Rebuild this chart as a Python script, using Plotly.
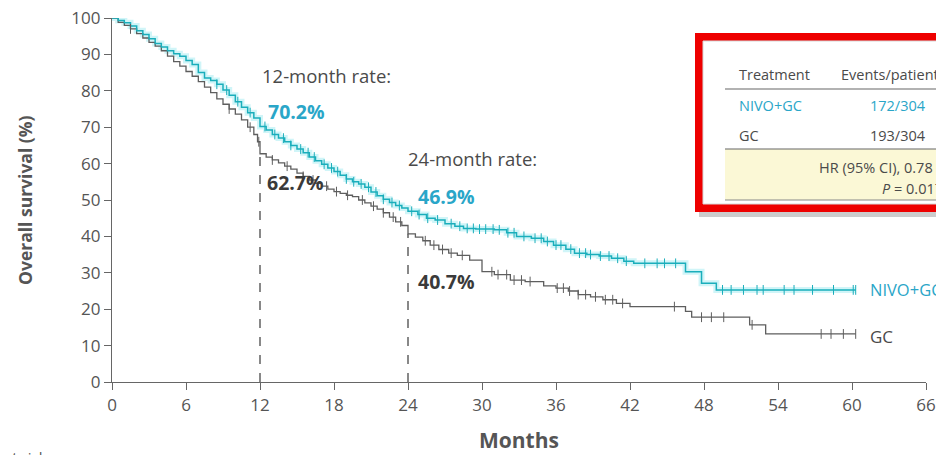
import numpy as np
import plotly.graph_objects as go

# ---------------- data ----------------
nivo_t = [0, 0.5, 1, 1.5, 2, 2.5, 3, 3.5, 4, 4.5, 5, 5.5, 6, 6.5, 7, 7.5, 8, 8.5, 9, 9.5,
          10, 10.5, 11, 11.5, 12, 12.5, 13, 13.5, 14, 14.5, 15, 15.5, 16, 16.5, 17, 17.5,
          18, 18.5, 19, 19.5, 20, 20.5, 21, 21.5, 22, 22.5, 23, 23.5, 24, 24.8, 25.5, 26.2,
          27, 27.8, 28.5, 29.5, 31, 32, 32.8, 34, 35, 35.8, 36.8, 37.5, 38.5, 39.5, 40.5,
          41.5, 42.3, 46.5, 47.8, 49, 60.3]
nivo_s = [100, 99.3, 98.7, 97.8, 96.5, 95.5, 94.3, 93, 92, 91, 90.2, 89.5, 88.3, 87.2, 85,
          83.5, 82.8, 81.8, 80.2, 78.8, 77, 75.5, 74, 72.5, 70.2, 69.2, 68, 67, 66, 65, 64,
          63, 61.8, 60.8, 59.8, 58.8, 57.8, 56.8, 55.8, 55, 54.4, 53.5, 52.2, 51.2, 50.2,
          49.3, 48.5, 47.8, 46.9, 46, 45, 44.5, 43.5, 42.8, 42.2, 42, 41.8, 41, 40, 39.5,
          38.6, 37.6, 36.5, 35.4, 35, 34.6, 34, 33.2, 32.6, 30.3, 27.1, 25.3, 25.3]

gc_t = [0, 0.5, 1, 1.5, 2, 2.5, 3, 3.5, 4, 4.5, 5, 5.5, 6, 6.5, 7, 7.5, 8, 8.5, 9, 9.5,
        10, 10.5, 11, 11.5, 11.8, 12, 12.5, 13, 13.5, 14, 14.5, 15, 15.5, 16, 16.5, 17,
        17.5, 18, 18.5, 19, 19.5, 20, 20.5, 21, 21.5, 22, 22.5, 23, 23.5, 24, 24.6, 25.2,
        25.8, 26.5, 27.3, 28, 29, 30, 31, 32.3, 33.5, 35, 36, 37, 37.8, 38.8, 39.8, 40.9,
        42, 46.5, 47, 51.7, 53, 60.3]
gc_s = [100, 98.8, 98, 97, 95.7, 94.5, 93.3, 92.3, 91, 89.5, 88, 86.8, 85.3, 84, 82.5, 81,
        79.5, 77.8, 76.3, 75, 73.6, 72, 70, 68, 66, 62.7, 61.8, 61, 60.2, 59.3, 58.5, 57.4,
        56.5, 55.5, 54.6, 53.8, 53, 52.3, 51.8, 51.3, 50.9, 50, 49.2, 48.3, 47.5, 46.5,
        45.3, 44, 43, 40.7, 39.8, 38.8, 37.6, 36.4, 35.4, 34.8, 33.5, 30.3, 29.5, 28, 27.6,
        26.4, 25.8, 25, 24, 23.4, 22.6, 21.6, 20.7, 19.4, 17.8, 15.7, 13.2, 13.2]

nivo_censor = [8.5, 9.3, 10.2, 11.2, 12.4, 13.2, 13.9, 14.5, 15.3, 15.9, 16.4, 17.2, 17.8,
               18.3, 19, 19.6, 20.2, 20.8, 21.4, 22, 22.7, 23.3, 24.3, 24.9, 25.6, 26.4,
               27.5, 28.2, 28.8, 29.3, 29.8, 30.3, 30.9, 31.4, 32.1, 32.6, 33.4, 34.3, 34.8,
               35.3, 36, 36.4, 37.2, 37.9, 38.4, 38.8, 39.6, 40.3, 41, 41.7, 43.2, 44.2,
               44.8, 45.7, 49.5, 50.2, 51.2, 52.3, 52.8, 54.5, 55.3, 56.8, 58.5, 60.1, 60.3]
gc_censor = [1.5, 9.5, 11.2, 11.9, 13, 14.2, 15.5, 16.3, 17.4, 18.2, 19.1, 20.3, 21.2, 22,
             22.8, 23.4, 25.4, 26.1, 26.8, 27.5, 28.4, 30.8, 31.3, 32, 32.6, 33.2, 33.9,
             36.1, 36.6, 37.1, 37.8, 38.4, 39.2, 40, 40.6, 41.4, 45.6, 47.8, 48.6, 49.6,
             51.9, 57.5, 58.3, 59.3, 60.3]

milestones = [12, 24]
milestone_labels = ["12-month rate:", "24-month rate:"]
nivo_rates = [70.2, 46.9]
gc_rates = [62.7, 40.7]

arm_names = ["NIVO+GC", "GC"]
events = ["172/304", "193/304"]
hr_text = "HR (95% CI), 0.78 (0.63–0.96)"
p_text = "<i>P</i> = 0.0171"

x_ticks = list(range(0, 67, 6))
y_ticks = list(range(0, 101, 10))

# ---------------- style ----------------
TEAL = "#1aaebb"
TEAL_TXT = "#2aa6c8"
GREY = "#5e5e5e"
TXT = "#4a4a4a"
FONT = "Open Sans"

# the page body adds an 8px offset; layout is specified in target pixels
OFF = 8
W, H = 944, 455
TL, TR, TT, TB = 112, 926, 18, 382          # target plot-area edges
ML, MT = TL - OFF, TT - OFF
MR = W - (TR - OFF)
MB = H - (TB - OFF)
PW, PH = TR - TL, TB - TT


def px(x):
    return (x - TL) / PW


def py(y):
    return (TB - y) / PH


def step_value(ts, ss, t):
    i = np.searchsorted(np.array(ts), t, side="right") - 1
    return float(np.array(ss)[max(i, 0)])


fig = go.Figure()

fig.add_trace(go.Scatter(x=nivo_t, y=nivo_s, mode="lines", line_shape="hv",
                         line=dict(color="rgba(120,225,235,0.35)", width=6),
                         hoverinfo="skip", showlegend=False, cliponaxis=False))
fig.add_trace(go.Scatter(x=gc_t, y=gc_s, mode="lines", line_shape="hv",
                         line=dict(color=GREY, width=1.3), name="GC",
                         showlegend=False, cliponaxis=False))
fig.add_trace(go.Scatter(x=nivo_t, y=nivo_s, mode="lines", line_shape="hv",
                         line=dict(color=TEAL, width=1.5), name="NIVO+GC",
                         showlegend=False, cliponaxis=False))

fig.add_trace(go.Scatter(x=gc_censor, y=[step_value(gc_t, gc_s, t) for t in gc_censor],
                         mode="markers", marker=dict(symbol="line-ns", size=7,
                                                     line=dict(color=GREY, width=1)),
                         showlegend=False, hoverinfo="skip", cliponaxis=False))
fig.add_trace(go.Scatter(x=nivo_censor, y=[step_value(nivo_t, nivo_s, t) for t in nivo_censor],
                         mode="markers", marker=dict(symbol="line-ns", size=7,
                                                     line=dict(color=TEAL, width=1)),
                         showlegend=False, hoverinfo="skip", cliponaxis=False))

shapes = []
for m, g in zip(milestones, gc_rates):
    shapes.append(dict(type="line", x0=m, x1=m, y0=0, y1=g, xref="x", yref="y",
                       line=dict(color="#3a3a3a", width=1.2, dash="dash"), layer="below"))

annotations = []
lab_pos = [(12.0, 84.3), (23.8, 61.5)]
nivo_pos = [(12.5, 74.2), (24.65, 51.1)]
gc_pos = [(12.4, 54.7), (24.65, 27.7)]
for lbl, r1, r2, p0, p1, p2 in zip(milestone_labels, nivo_rates, gc_rates, lab_pos, nivo_pos, gc_pos):
    annotations.append(dict(x=p0[0], y=p0[1], text=lbl, showarrow=False, xanchor="left",
                            yanchor="middle", font=dict(family=FONT, size=18.5, color=TXT)))
    annotations.append(dict(x=p1[0], y=p1[1], text=f"<b>{r1}%</b>", showarrow=False,
                            xanchor="left", yanchor="middle",
                            font=dict(family=FONT, size=19.5, color=TEAL_TXT)))
    annotations.append(dict(x=p2[0], y=p2[1], text=f"<b>{r2}%</b>", showarrow=False,
                            xanchor="left", yanchor="middle",
                            font=dict(family=FONT, size=19.5, color="#3a3a3a")))

annotations.append(dict(x=61.3, y=25.3, text=arm_names[0], showarrow=False, xanchor="left",
                        yanchor="middle", font=dict(family=FONT, size=16.5, color=TEAL_TXT)))
annotations.append(dict(x=61.3, y=12.6, text=arm_names[1], showarrow=False, xanchor="left",
                        yanchor="middle", font=dict(family=FONT, size=17, color=TXT)))

# axis titles as annotations
annotations.append(dict(xref="paper", yref="paper", x=px(25), y=py(200),
                        text="<b>Overall survival (%)</b>", textangle=-90, showarrow=False,
                        xanchor="center", yanchor="middle",
                        font=dict(family=FONT, size=17.5, color="#555")))
annotations.append(dict(xref="paper", yref="paper", x=px(519), y=py(440),
                        text="<b>Months</b>", showarrow=False,
                        xanchor="center", yanchor="middle",
                        font=dict(family=FONT, size=21, color="#555")))


def rect(x0, y0, x1, y1, fill, line=None):
    return dict(type="rect", xref="paper", yref="paper", x0=px(x0), x1=px(x1),
                y0=py(y1), y1=py(y0), fillcolor=fill,
                line=line if line else dict(width=0), layer="above")


shapes.append(rect(699, 37, 960, 217, "rgba(0,0,0,0.2)"))          # shadow
shapes.append(rect(695, 33, 960, 212, "#ee0000"))                   # red frame
shapes.append(rect(703, 41, 960, 204, "white", dict(color="#d8d8d8", width=1)))
shapes.append(rect(725, 149, 960, 200, "#fbf8d6"))                  # yellow band
for yy, c in [(89, "#666"), (149, "#666"), (200, "#888")]:
    shapes.append(dict(type="line", xref="paper", yref="paper", x0=px(725), x1=px(960),
                       y0=py(yy), y1=py(yy), line=dict(color=c, width=1.2), layer="above"))

TF = dict(family=FONT, size=14.5, color="#4a4a4a")
TEALF = dict(family=FONT, size=14.5, color=TEAL_TXT)


def pa(x, y, text, font=TF):
    return dict(xref="paper", yref="paper", x=px(x), y=py(y), text=text, showarrow=False,
                xanchor="left", yanchor="middle", font=font)


annotations += [
    pa(737, 74, "Treatment"),
    pa(839, 74, "Events/patients"),
    pa(737, 105, arm_names[0], TEALF),
    pa(868, 105, events[0], TEALF),
    pa(737, 136, arm_names[1]),
    pa(868, 136, events[1]),
    pa(817, 167, hr_text),
    pa(880, 188, p_text),
    dict(xref="paper", yref="paper", x=px(2), y=py(445), text="at risk", showarrow=False,
         xanchor="left", yanchor="top", font=dict(family=FONT, size=15, color="#555")),
]

fig.update_layout(
    width=W, height=H,
    margin=dict(l=ML, r=MR, t=MT, b=MB, autoexpand=False),
    paper_bgcolor="white", plot_bgcolor="white",
    font=dict(family=FONT, color="#555"),
    shapes=shapes,
    annotations=annotations,
    xaxis=dict(range=[0, 66], tickvals=x_ticks, ticks="outside", ticklen=7, tickcolor="#666",
               tickwidth=1.3, showline=True, linecolor="#666", linewidth=1.3, showgrid=False,
               zeroline=False, tickfont=dict(size=17, color="#555"), automargin=False,
               ticklabeloverflow="allow"),
    yaxis=dict(range=[0, 100], tickvals=y_ticks, ticks="outside", ticklen=7, tickcolor="#666",
               tickwidth=1.3, showline=True, linecolor="#666", linewidth=1.3, showgrid=False,
               zeroline=False, tickfont=dict(size=17, color="#555"), automargin=False,
               ticklabeloverflow="allow"),
)

fig.write_html("out.html")
